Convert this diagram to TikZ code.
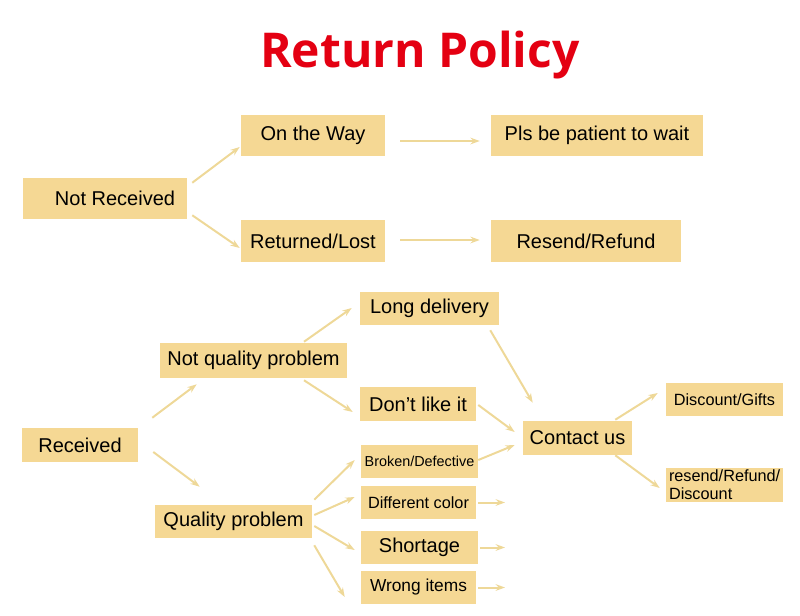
\documentclass[tikz,border=0pt]{standalone}
\usepackage{fontspec}
\setmainfont{Liberation Sans}
\newfontfamily\titlefont{Open Sans}
\usepackage{xcolor}
\usetikzlibrary{arrows.meta,calc}
\definecolor{boxfill}{RGB}{245,216,148}
\definecolor{arrcol}{RGB}{238,216,152}
\definecolor{titlered}{RGB}{228,0,18}
\tikzset{
    box/.style={fill=boxfill, inner sep=0pt, font=\fontsize{15}{18}\selectfont},
    small/.style={font=\fontsize{12.2}{13.5}\selectfont},
    arr/.style={draw=arrcol, line width=1.5pt, -{Stealth[length=7pt,width=5pt]}}
}
\begin{document}
\begin{tikzpicture}[x=0.75pt, y=-0.75pt]
\useasboundingbox (0,0) rectangle (800,615);
\node[text=titlered, font=\titlefont\bfseries\fontsize{36}{40}\selectfont] (ttl) at (420,55) {Return Policy};
\node[box, minimum width=123pt, minimum height=30.75pt] (nr) at (105,198.5) {\hspace{15pt}Not Received};
\node[box, minimum width=108pt, minimum height=30.75pt] (otw) at (313,135.5) {On the Way};
\node[box, minimum width=108pt, minimum height=31.5pt] (rl) at (313,241) {Returned/Lost};
\node[box, minimum width=159pt, minimum height=30.75pt] (pls) at (597,135.5) {Pls be patient to wait};
\node[box, minimum width=142.5pt, minimum height=31.5pt] (rr) at (586,241) {Resend/Refund};
\node[box, minimum width=104.25pt, minimum height=24.75pt] (ld) at (429.5,308.5) {Long delivery};
\node[box, minimum width=140.25pt, minimum height=26.25pt] (nqp) at (253.5,360.5) {Not quality problem};
\node[box, minimum width=87pt, minimum height=25.5pt] (dl) at (418,404) {Don't like it};
\node[box, minimum width=87pt, minimum height=25.5pt] (rc) at (80,445) {Received};
\node[box, minimum width=81.75pt, minimum height=25.5pt] (cu) at (577.5,438) {Contact us};
\node[box, small, minimum width=87.75pt, minimum height=24.75pt] (dg) at (724.5,399.5) {Discount/Gifts};
\node[box, small, text width=83.25pt, inner xsep=2.25pt, align=left, minimum height=25.5pt] (rfd) at (724.5,485) {resend/Refund/\\Discount};
\node[box, font=\fontsize{10.8}{12}\selectfont, minimum width=87.75pt, minimum height=24.75pt] (bd) at (419.5,461.5) {Broken/Defective};
\node[box, small, minimum width=86.25pt, minimum height=24.75pt] (dc) at (418.5,502.5) {Different color};
\node[box, minimum width=87.75pt, minimum height=24.75pt] (sh) at (419.5,547.5) {Shortage};
\node[box, font=\fontsize{13}{15}\selectfont, minimum width=86.25pt, minimum height=24.75pt] (wi) at (418.5,587.5) {Wrong items};
\node[box, minimum width=117.75pt, minimum height=24.75pt] (qp) at (233.5,521.5) {Quality problem};
\coordinate (dcx) at (505,502.5);
\coordinate (shx) at (505,547.5);
\coordinate (wix) at (505,587.5);
\draw[arr] ($(nr.north east)+(5,5)$) -- ($(otw.west)+(-1,11.5)$);
\draw[arr] ($(nr.south east)+(5,-4)$) -- ($(rl.west)+(-1,7)$);
\draw[arr] ($(otw.east)+(15,5.5)$) -- ($(pls.west)+(-11,5.5)$);
\draw[arr] ($(rl.east)+(15,-1)$) -- ($(rr.west)+(-11,-1)$);
\draw[arr] ($(rc.north east)+(14,-10)$) -- ($(nqp.south west)+(37,6)$);
\draw[arr] ($(rc.east)+(15,7)$) -- ($(qp.north west)+(45,-18)$);
\draw[arr] ($(nqp.north)+(50.5,-1)$) -- ($(ld.west)+(-8,-0.5)$);
\draw[arr] ($(nqp.south)+(50.5,2)$) -- ($(dl.west)+(-7,8)$);
\draw[arr] ($(ld.south east)+(-9,5)$) -- ($(cu.north west)+(10,-18)$);
\draw[arr] ($(dl.east)+(2,1)$) -- ($(cu.west)+(-8,-6)$);
\draw[arr] ($(bd.east)+(0,-1.5)$) -- ($(cu.west)+(-8,7)$);
\draw[arr] ($(cu.north east)+(-17,-1)$) -- ($(dg.west)+(-8,-6.5)$);
\draw[arr] ($(cu.south east)+(-17,0)$) -- ($(rfd.west)+(-6,3)$);
\draw[arr] ($(qp.north east)+(2,-5)$) -- ($(bd.west)+(-6,-1.5)$);
\draw[arr] ($(qp.east)+(2,-6.5)$) -- ($(dc.west)+(-6,-5.5)$);
\draw[arr] ($(qp.east)+(2,4.5)$) -- ($(sh.west)+(-6,2.5)$);
\draw[arr] ($(qp.south east)+(2,7)$) -- ($(wi.west)+(-16,9.5)$);
\draw[arr] ($(dc.east)+(2,0)$) -- (dcx);
\draw[arr] ($(sh.east)+(2,0)$) -- (shx);
\draw[arr] ($(wi.east)+(2,0)$) -- (wix);
\end{tikzpicture}
\end{document}
